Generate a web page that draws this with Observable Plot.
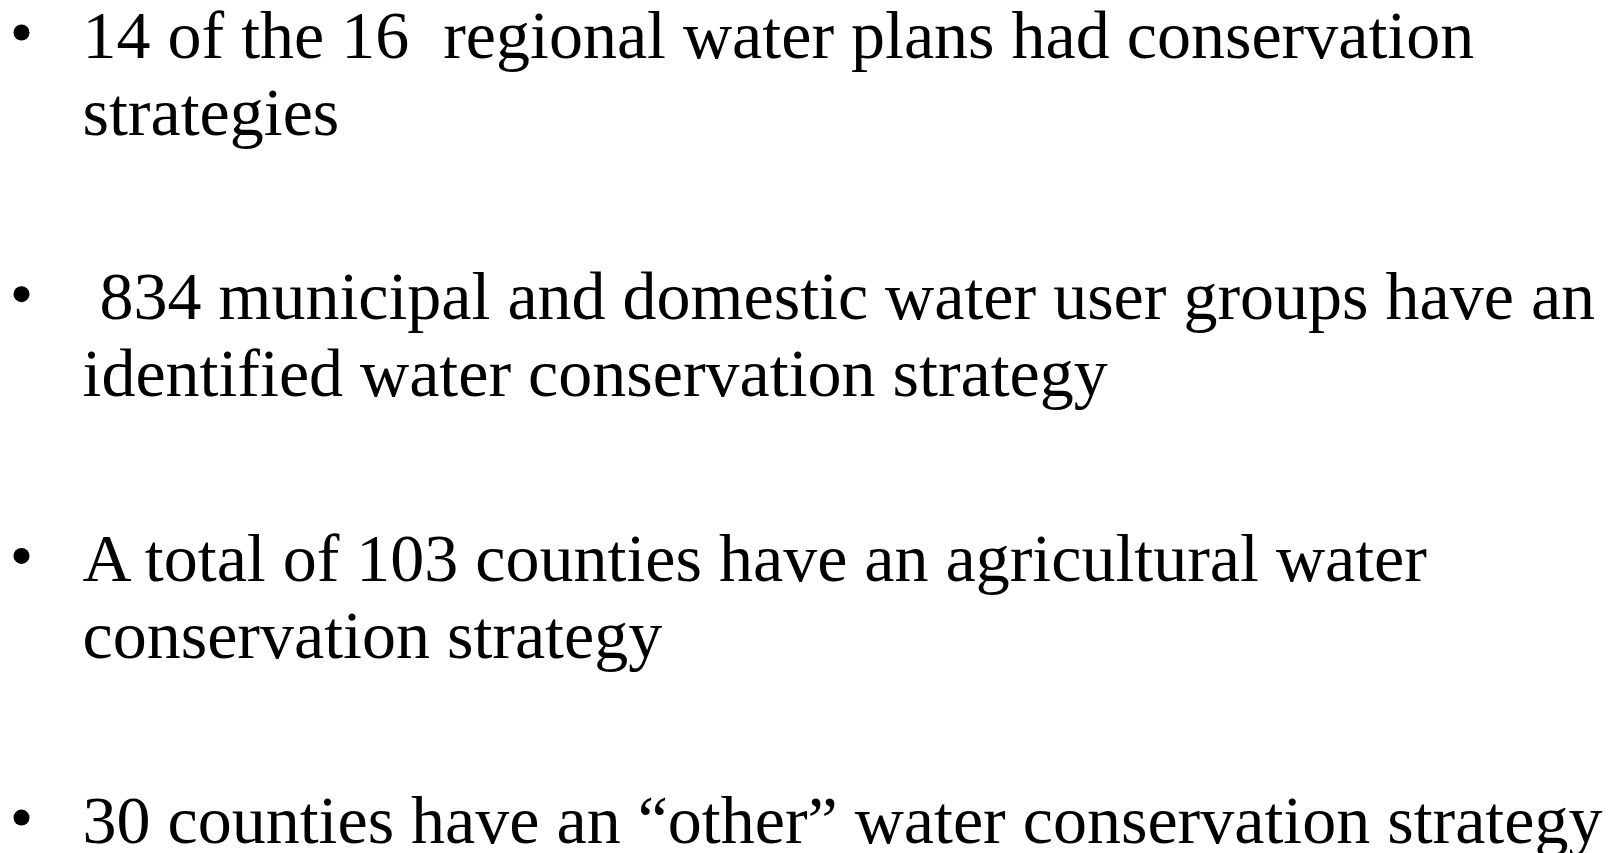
<!DOCTYPE html>
<html>
<head>
<meta charset="utf-8">
<script src="https://cdn.jsdelivr.net/npm/d3@7"></script>
<script src="https://cdn.jsdelivr.net/npm/@observablehq/plot@0.6"></script>
<style>
  html, body { margin: 0; padding: 0; background: #ffffff; }
  svg text { white-space: pre; }
</style>
</head>
<body>
<div id="chart"></div>
<script>
// Bullet groups: each is a list of wrapped lines
const bulletLines = [
  ["14 of the 16  regional water plans had conservation", "strategies"],
  [" 834 municipal and domestic water user groups have an", "identified water conservation strategy"],
  ["A total of 103 counties have an agricultural water", "conservation strategy"],
  ["30 counties have an \u201Cother\u201D water conservation strategy"]
];

const W = 1610, H = 853;
const fontSize = 68;
const firstBaseline = 57;
const groupStep = 261.7;
const lineStep = 77;
const textX = 82;
const bulletX = 21;
const bulletRise = 25;

const rows = [];
bulletLines.forEach((lines, g) => {
  lines.forEach((t, i) => {
    rows.push({group: g, line: i, text: t, baseline: firstBaseline + g * groupStep + i * lineStep});
  });
});
const bullets = bulletLines.map((_, g) => ({group: g, baseline: firstBaseline + g * groupStep}));

const chart = Plot.plot({
  width: W,
  height: H,
  margin: 0,
  x: {type: "linear", domain: [0, W], range: [0, W], axis: null},
  y: {type: "linear", domain: [0, H], range: [0, H], axis: null},
  marks: [
    Plot.text(rows, {
      x: () => textX,
      y: d => d.baseline,
      text: d => d.text,
      textAnchor: "start",
      lineAnchor: "top",
      dy: -0.71 * fontSize,
      fontSize: fontSize,
      fontFamily: "Liberation Serif",
      fill: "#000000"
    }),
    Plot.dot(bullets, {
      x: () => bulletX,
      y: d => d.baseline - bulletRise,
      r: 8,
      fill: "#000000",
      stroke: null
    })
  ]
});
document.getElementById("chart").appendChild(chart);
</script>
</body>
</html>
